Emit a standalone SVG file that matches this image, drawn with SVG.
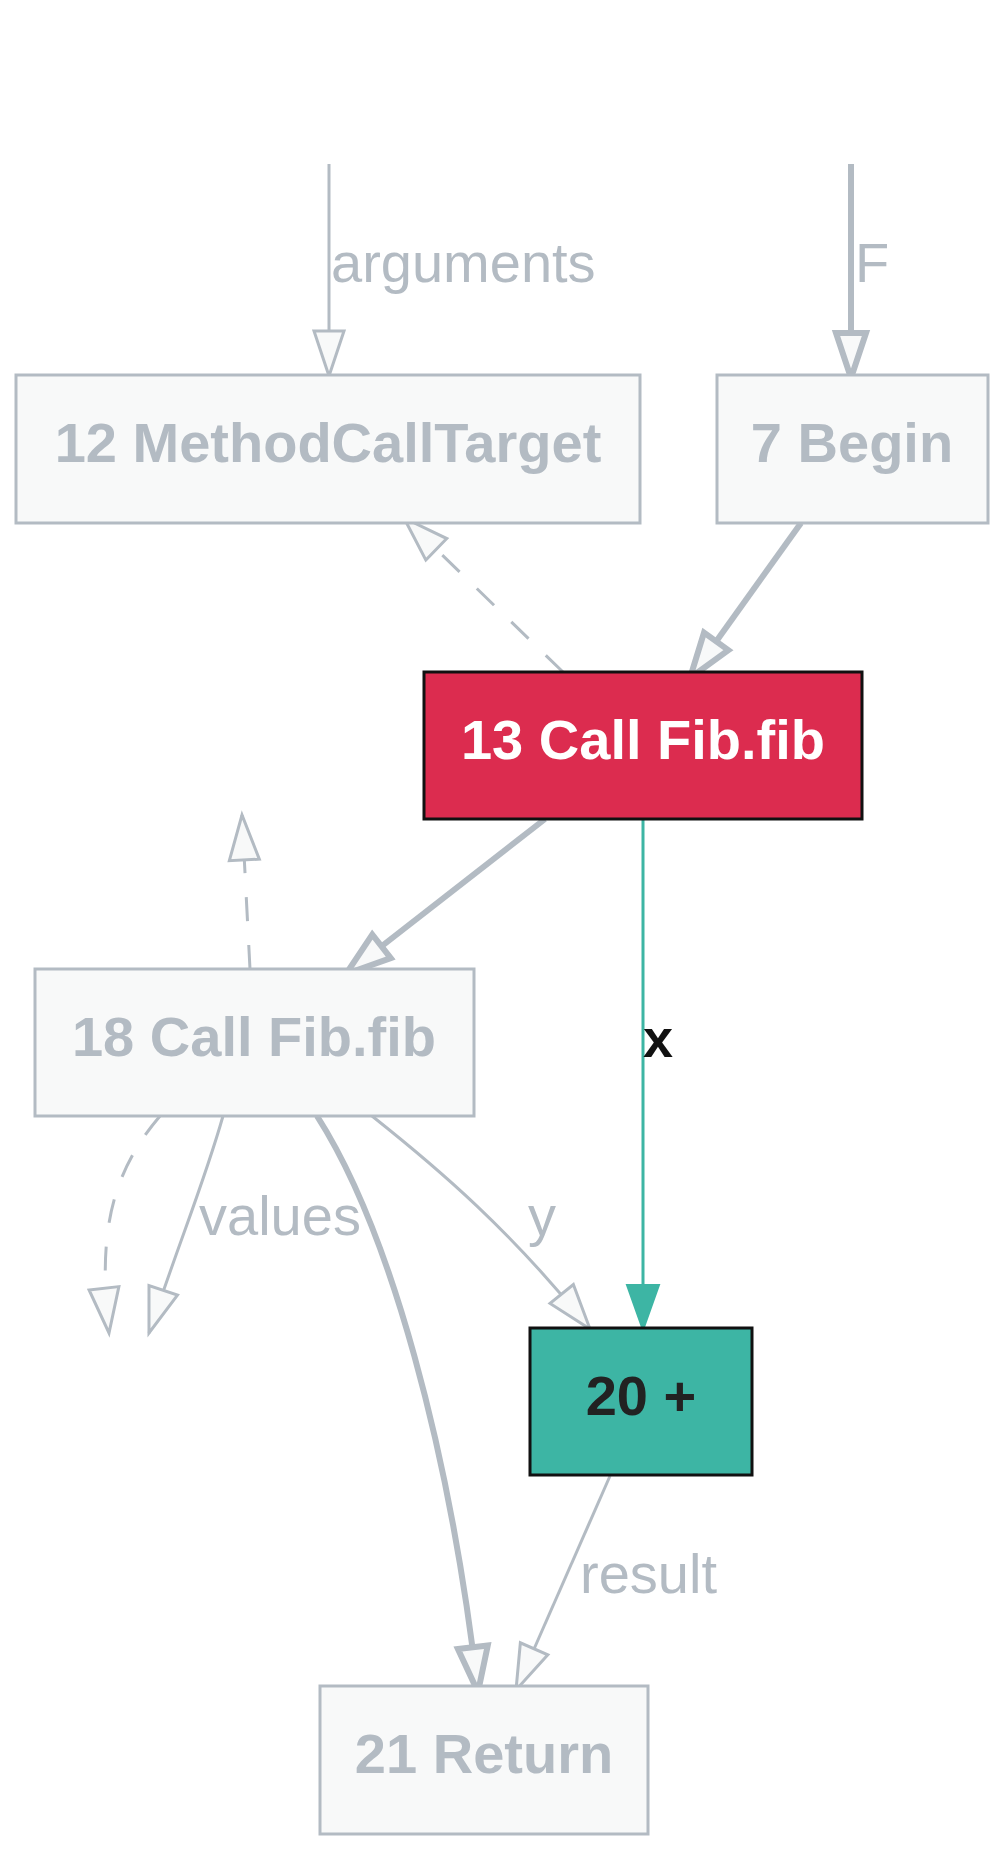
<svg xmlns="http://www.w3.org/2000/svg" width="1000" height="1850" viewBox="0 0 1000 1850">
<style>
.node rect{fill:#F8F9F9;stroke:#B3BBC3;stroke-width:3}
.node text{font-family:"Liberation Sans",Arial,sans-serif;font-weight:bold;font-size:56px;fill:#B3BBC3;text-anchor:middle}
#n13 rect{fill:#DC2C4F;stroke:#111;stroke-width:3}
#n13 text{fill:#FFFFFF}
#n20 rect{fill:#3DB5A4;stroke:#111;stroke-width:3}
#n20 text{fill:#222222}
.e{fill:none;stroke:#B3BBC3;stroke-width:3}
.thick{stroke-width:6}
.dash{stroke-dasharray:24 24}
.teal{stroke:#3DB5A4;stroke-width:3}
.lbl{font-family:"Liberation Sans",Arial,sans-serif;font-size:56px;fill:#B3BBC3}
.lblx{font-family:"Liberation Sans",Arial,sans-serif;font-size:54px;font-weight:bold;fill:#111}
</style>
<defs>
<marker id="open" viewBox="-6 -20 56 40" markerWidth="56" markerHeight="40" refX="45" refY="0" orient="auto" markerUnits="userSpaceOnUse">
<path d="M0,-15 L45,0 L0,15 Z" fill="#F8F9F9" stroke="#B3BBC3" stroke-width="3" stroke-dasharray="none"/>
</marker>
<marker id="openThick" viewBox="-8 -22 62 44" markerWidth="62" markerHeight="44" refX="45" refY="0" orient="auto" markerUnits="userSpaceOnUse">
<path d="M0,-15 L45,0 L0,15 Z" fill="#F8F9F9" stroke="#B3BBC3" stroke-width="6" stroke-dasharray="none"/>
</marker>
<marker id="teal" viewBox="-4 -20 54 40" markerWidth="54" markerHeight="40" refX="45" refY="0" orient="auto" markerUnits="userSpaceOnUse">
<path d="M0,-16 L45,0 L0,16 Z" fill="#3DB5A4" stroke="#3DB5A4" stroke-width="2"/>
</marker>
</defs>
<rect width="1000" height="1850" fill="#FFFFFF"/>
<g id="connectors">
<path class="e" d="M329,164 L329,376" marker-end="url(#open)"/>
<text class="lbl" x="331" y="282">arguments</text>
<path class="e thick" d="M851,164 L851,378" marker-end="url(#openThick)"/>
<text class="lbl" x="855" y="282">F</text>
<path class="e dash" d="M563,672 L404,518" marker-end="url(#open)"/>
<path class="e thick" d="M801,523 L690,678" marker-end="url(#openThick)"/>
<path class="e thick" d="M545,819 L346,974" marker-end="url(#openThick)"/>
<path class="teal" d="M643,819 L643,1330" marker-end="url(#teal)"/>
<text class="lblx" x="643" y="1057">x</text>
<path class="e dash" d="M250,969 L242,815" marker-end="url(#open)"/>
<path class="e dash" d="M160,1116 C110,1175 98,1235 109,1333" marker-end="url(#open)"/>
<path class="e" d="M223,1116 C205,1180 180,1240 149,1333" marker-end="url(#open)"/>
<text class="lbl" x="199" y="1235">values</text>
<path class="e thick" d="M317,1116 C390,1230 450,1450 478,1692" marker-end="url(#openThick)"/>
<path class="e" d="M372,1116 C440,1170 510,1230 590,1329" marker-end="url(#open)"/>
<text class="lbl" x="528" y="1235">y</text>
<path class="e" d="M610,1476 L516,1690" marker-end="url(#open)"/>
<text class="lbl" x="580" y="1593">result</text>
</g>
<g id="n12" class="node"><rect x="16" y="375" width="624" height="148"/><text x="328" y="462">12 MethodCallTarget</text></g>
<g id="n7" class="node"><rect x="717" y="375" width="271" height="148"/><text x="852" y="462">7 Begin</text></g>
<g id="n13" class="node"><rect x="424" y="672" width="438" height="147"/><text x="643" y="759">13 Call Fib.fib</text></g>
<g id="n18" class="node"><rect x="35" y="969" width="439" height="147"/><text x="254" y="1056">18 Call Fib.fib</text></g>
<g id="n20" class="node"><rect x="530" y="1328" width="222" height="147"/><text x="641" y="1415">20 +</text></g>
<g id="n21" class="node"><rect x="320" y="1686" width="328" height="148"/><text x="484" y="1773">21 Return</text></g>
</svg>
